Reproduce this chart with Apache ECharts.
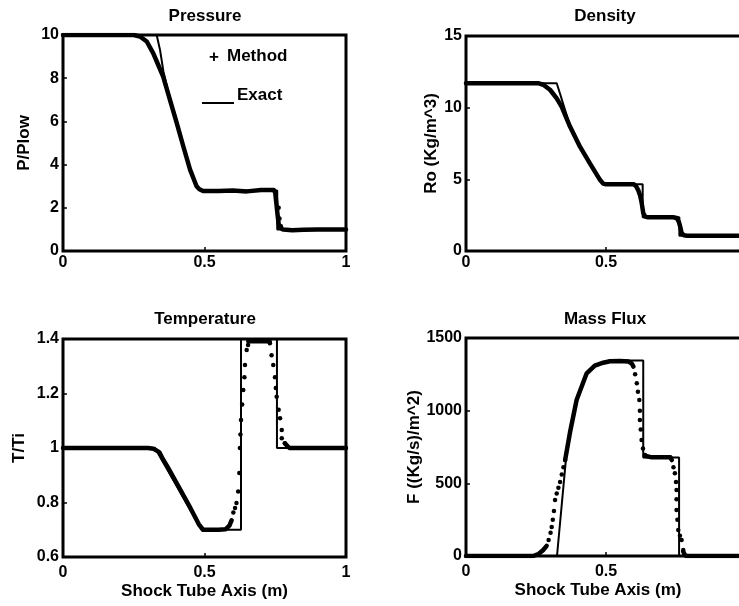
<!DOCTYPE html>
<html><head><meta charset="utf-8">
<script src="https://cdn.jsdelivr.net/npm/echarts@6/dist/echarts.min.js"></script>
<style>html,body{margin:0;padding:0;background:#fff}#c{width:739px;height:606px}</style>
</head><body><div id="c"></div>
<script>
// ---- text ----
const titles = ['Pressure', 'Density', 'Temperature', 'Mass Flux'];
const yNames = ['P/Plow', 'Ro (Kg/m^3)', 'T/Ti', 'F ((Kg/s)/m^2)'];
const xName = 'Shock Tube Axis (m)';
const legendLabels = ['Method', 'Exact'];
// ---- axes ----
const xTicks = [0, 0.5, 1];
const yMin = [0, 0, 0.6, 0];
const yMax = [10, 15, 1.4, 1500];
const yStep = [2, 5, 0.2, 500];

// ---- Pressure ----
const pressureExact = [[0,10],[0.331,10],[0.343,9.3],[0.355,8.3],[0.378,7.0],[0.402,5.9],[0.425,4.85],[0.449,3.8],[0.472,3.0],[0.49,2.8],[0.757,2.8],[0.757,1.0],[1,1.0]];
const pressureMethod = [[0,10],[0.25,10],[0.272,9.93],[0.296,9.7],[0.319,9.15],[0.337,8.6],[0.354,8.07],[0.378,7.0],[0.402,5.92],[0.425,4.85],[0.449,3.77],[0.472,3.0],[0.482,2.86],[0.495,2.78],[0.55,2.78],[0.6,2.8],[0.65,2.76],[0.7,2.82],[0.745,2.82],[0.75,2.7],[0.754,2.2],[0.758,1.7],[0.762,1.25],[0.768,1.07],[0.778,0.99],[0.81,0.96],[0.85,0.98],[0.9,1.0],[1,1.0]];
const pressureDots = [[0.762,2.0],[0.765,1.5],[0.77,1.15]];

// ---- Density ----
const densityExact = [[0,11.7],[0.324,11.7],[0.337,10.9],[0.352,9.95],[0.371,8.75],[0.407,7.28],[0.443,6.08],[0.479,4.95],[0.49,4.65],[0.631,4.65],[0.631,2.35],[0.762,2.35],[0.762,1.07],[1,1.07]];
const densityMethod = [[0,11.7],[0.26,11.7],[0.276,11.6],[0.3,11.25],[0.324,10.65],[0.342,10.05],[0.371,8.7],[0.407,7.28],[0.443,6.1],[0.479,4.95],[0.49,4.7],[0.5,4.65],[0.6,4.65],[0.608,4.5],[0.615,4.25],[0.622,3.85],[0.627,3.4],[0.633,2.65],[0.64,2.4],[0.65,2.35],[0.74,2.35],[0.752,2.3],[0.76,2.05],[0.765,1.7],[0.77,1.25],[0.778,1.1],[0.79,1.07],[1,1.07]];
const densityDots = [];

// ---- Temperature ----
const tempExact = [[0,1],[0.325,1],[0.49,0.7],[0.629,0.7],[0.629,1.4],[0.756,1.4],[0.756,1.0],[1,1.0]];
const tempMethod = [[0,1],[0.3,1],[0.32,0.997],[0.34,0.985],[0.35,0.965],[0.37,0.93],[0.4,0.874],[0.45,0.78],[0.48,0.72],[0.495,0.7],[0.55,0.7],[0.575,0.702],[0.588,0.715],[0.596,0.735],null,[0.655,1.392],[0.73,1.392],null,[0.784,1.017],[0.8,1.0],[1,1.0]];
const tempDots = [[0.602,0.763],[0.608,0.78],[0.613,0.798],[0.619,0.84],[0.623,0.908],[0.625,1.0],[0.627,1.05],[0.629,1.103],[0.633,1.16],[0.637,1.213],[0.641,1.26],[0.643,1.305],[0.649,1.36],[0.654,1.378],[0.731,1.384],[0.737,1.34],[0.743,1.305],[0.749,1.26],[0.752,1.22],[0.755,1.188],[0.762,1.14],[0.767,1.109],[0.773,1.066],[0.773,1.036],[0.784,1.017]];

// ---- Mass Flux ----
const massExact = [[0,0],[0.325,0],[0.36,730],[0.371,846],[0.395,1073],[0.431,1257],[0.46,1310],[0.49,1335],[0.514,1345],[0.633,1345],[0.633,678],[0.761,678],[0.761,0],[1,0]];
const massMethod = [[0,0],[0.24,0],[0.26,15],[0.275,40],[0.288,70],null,[0.354,660],[0.371,846],[0.395,1073],[0.431,1257],[0.46,1310],[0.49,1330],[0.514,1340],[0.55,1342],[0.58,1338],[0.592,1325],[0.598,1303],null,[0.639,690],[0.66,680],[0.73,680],[0.735,660],null,[0.776,30],[0.782,5],[0.79,0],[1,0]];
const massDots = [[0.295,110],[0.302,160],[0.306,200],[0.31,250],[0.314,310],[0.318,385],[0.324,430],[0.33,470],[0.336,510],[0.342,560],[0.348,610],[0.354,660],[0.604,1250],[0.61,1188],[0.614,1130],[0.619,1073],[0.621,1000],[0.621,936],[0.624,870],[0.627,798],[0.632,740],[0.639,695],[0.741,610],[0.746,569],[0.75,510],[0.752,454],[0.752,390],[0.752,317],[0.755,250],[0.758,179],[0.764,140],[0.77,110],[0.776,41]];

const exactSets = [pressureExact, densityExact, tempExact, massExact];
const methodSets = [pressureMethod, densityMethod, tempMethod, massMethod];
const dotSets = [pressureDots, densityDots, tempDots, massDots];

// ---- layout ----
const FONT = "'Liberation Sans', Arial, sans-serif";
const grids = [
  {left: 63, top: 35, width: 283, height: 216},
  {left: 466, top: 36, width: 280, height: 215},
  {left: 63, top: 339, width: 283, height: 218},
  {left: 466, top: 338, width: 280, height: 218}
];
const yNameGap = [30, 26, 35, 41];
const xNamePad = [[0, 0, 0, 0], [0, 0, 0, 0], [0, 0, 0, 0], [0, 16, 0, 0]];
const titlePos = [[205, 16], [605, 16], [205, 319], [605, 319]];

function segments(arr) {
  const out = []; let cur = [];
  arr.forEach(p => { if (p === null) { if (cur.length) out.push(cur); cur = []; } else cur.push(p); });
  if (cur.length) out.push(cur);
  return out;
}
function fmt(v) { return String(+(+v).toFixed(2)); }

const chart = echarts.init(document.getElementById('c'), null, {renderer: 'canvas'});
const xAxis = [], yAxis = [], series = [];
grids.forEach((g, i) => {
  g.show = true; g.borderColor = '#000'; g.borderWidth = 3; g.containLabel = false;
  g.outerBoundsMode = 'none';
  const bottom = i >= 2;
  xAxis.push({
    type: 'value', gridIndex: i, min: xTicks[0], max: xTicks[xTicks.length - 1], interval: 0.5,
    axisLine: {show: false}, splitLine: {show: false},
    axisTick: {show: true, inside: true, length: 4, lineStyle: {color: '#000', width: 1.5}},
    axisLabel: {color: '#000', fontFamily: FONT, fontWeight: 'bold', fontSize: 16, margin: bottom ? 8 : 4, formatter: fmt},
    name: bottom ? xName : '', nameLocation: 'middle', nameGap: 26,
    nameTextStyle: {color: '#000', fontFamily: FONT, fontWeight: 'bold', fontSize: 17, padding: xNamePad[i]}
  });
  yAxis.push({
    type: 'value', gridIndex: i, min: yMin[i], max: yMax[i], interval: yStep[i],
    axisLine: {show: false}, splitLine: {show: false},
    axisTick: {show: true, inside: true, length: 4, lineStyle: {color: '#000', width: 1.5}},
    axisLabel: {color: '#000', fontFamily: FONT, fontWeight: 'bold', fontSize: 16, margin: 4, formatter: fmt},
    name: yNames[i], nameLocation: 'middle', nameGap: yNameGap[i], nameRotate: 90,
    nameTextStyle: {color: '#000', fontFamily: FONT, fontWeight: 'bold', fontSize: 17}
  });
  segments(methodSets[i]).forEach(seg => series.push({
    type: 'line', xAxisIndex: i, yAxisIndex: i, data: seg, showSymbol: false, silent: true,
    lineStyle: {color: '#000', width: 4.5, cap: 'round', join: 'round'}, animation: false
  }));
  series.push({
    type: 'line', xAxisIndex: i, yAxisIndex: i, data: exactSets[i], showSymbol: false, silent: true,
    lineStyle: {color: '#000', width: 2}, animation: false
  });
  if (dotSets[i].length) series.push({
    type: 'scatter', xAxisIndex: i, yAxisIndex: i, data: dotSets[i], symbol: 'circle', symbolSize: 4.5,
    itemStyle: {color: '#000', opacity: 1}, silent: true, animation: false
  });
});

const graphic = titles.map((t, i) => ({
  type: 'text', x: titlePos[i][0], y: titlePos[i][1],
  style: {text: t, fill: '#000', font: 'bold 17px ' + FONT, textAlign: 'center', textVerticalAlign: 'middle'}
}));
graphic.push(
  {type: 'text', x: 214, y: 57, style: {text: '+', fill: '#000', font: 'bold 17px ' + FONT, textAlign: 'center', textVerticalAlign: 'middle'}},
  {type: 'text', x: 227, y: 56, style: {text: legendLabels[0], fill: '#000', font: 'bold 17px ' + FONT, textAlign: 'left', textVerticalAlign: 'middle'}},
  {type: 'line', shape: {x1: 202, y1: 103, x2: 234, y2: 103}, style: {stroke: '#000', lineWidth: 2}},
  {type: 'text', x: 237, y: 95, style: {text: legendLabels[1], fill: '#000', font: 'bold 17px ' + FONT, textAlign: 'left', textVerticalAlign: 'middle'}}
);

chart.setOption({
  backgroundColor: '#fff', animation: false,
  grid: grids, xAxis: xAxis, yAxis: yAxis, series: series, graphic: graphic
});
</script></body></html>
